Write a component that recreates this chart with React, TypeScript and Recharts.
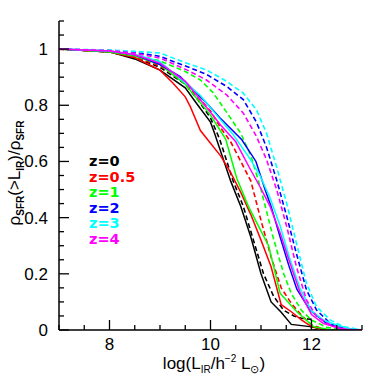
import React from 'react';
import { LineChart, Line, XAxis, YAxis } from 'recharts';

// ---- axis ticks ----
const xTicks = [7, 7.5, 8, 8.5, 9, 9.5, 10, 10.5, 11, 11.5, 12, 12.5, 13];
const xMajor = [8, 10, 12];
const yTicks = [0, 0.05, 0.1, 0.15, 0.2, 0.25, 0.3, 0.35, 0.4, 0.45, 0.5, 0.55, 0.6, 0.65, 0.7, 0.75, 0.8, 0.85, 0.9, 0.95, 1, 1.05, 1.1];
const yMajor = [0, 0.2, 0.4, 0.6, 0.8, 1];

// ---- series (log L_IR, fraction) ----
const z0SolidX = [7, 8, 8.5, 9, 9.5, 9.75, 10, 10.08, 10.4, 10.6, 10.8, 11.0, 11.2, 11.4, 11.6, 11.97, 12.3, 13];
const z0SolidY = [1, 0.99, 0.965, 0.925, 0.862, 0.8, 0.74, 0.7, 0.53, 0.44, 0.33, 0.2, 0.1, 0.063, 0.02, 0.012, 0, 0];
const z0DashX = [7, 8, 8.5, 9, 9.5, 9.75, 10, 10.18, 10.45, 10.65, 10.85, 11.05, 11.25, 11.45, 11.65, 11.8, 11.99, 12, 13];
const z0DashY = [1, 0.99, 0.97, 0.935, 0.875, 0.82, 0.755, 0.68, 0.53, 0.44, 0.32, 0.2, 0.12, 0.07, 0.05, 0.042, 0.038, 0, 0];

const z05SolidX = [7, 8, 8.5, 9, 9.25, 9.5, 9.6, 9.8, 10, 10.2, 10.4, 10.6, 10.8, 11.0, 11.2, 11.4, 11.6, 11.8, 12.0, 12.3, 13];
const z05SolidY = [1, 0.99, 0.97, 0.925, 0.88, 0.83, 0.795, 0.71, 0.665, 0.62, 0.56, 0.49, 0.41, 0.32, 0.225, 0.09, 0.065, 0.036, 0.012, 0, 0];
const z05DashX = [7, 8, 8.5, 9, 9.5, 10, 10.2, 10.4, 10.6, 10.8, 11.0, 11.2, 11.4, 11.6, 11.8, 12.0, 12.3, 13];
const z05DashY = [1, 0.99, 0.972, 0.94, 0.88, 0.78, 0.72, 0.67, 0.6, 0.53, 0.39, 0.26, 0.15, 0.095, 0.053, 0.018, 0, 0];

const z1SolidX = [7, 8, 8.5, 9, 9.5, 10, 10.3, 10.52, 10.75, 10.95, 11.15, 11.38, 11.71, 12.04, 12.4, 13];
const z1SolidY = [1, 0.99, 0.975, 0.945, 0.875, 0.765, 0.68, 0.54, 0.44, 0.37, 0.3, 0.13, 0.065, 0.012, 0, 0];
const z1DashX = [7, 8, 8.5, 9, 9.5, 9.8, 10.05, 10.3, 10.6, 10.8, 11.0, 11.24, 11.45, 11.6, 11.8, 12.0, 12.3, 12.6, 13];
const z1DashY = [1, 0.993, 0.98, 0.958, 0.92, 0.89, 0.845, 0.78, 0.7, 0.62, 0.5, 0.33, 0.2, 0.13, 0.07, 0.035, 0.01, 0, 0];

const z2SolidX = [7, 8, 8.5, 9, 9.4, 9.66, 9.92, 10.19, 10.62, 10.9, 11.08, 11.2, 11.38, 11.55, 11.71, 11.97, 12.3, 12.6, 13];
const z2SolidY = [1, 0.993, 0.98, 0.945, 0.902, 0.855, 0.808, 0.755, 0.677, 0.6, 0.5, 0.44, 0.33, 0.23, 0.145, 0.07, 0.024, 0.003, 0];
const z2DashX = [7, 8, 8.5, 9, 9.53, 9.92, 10.32, 10.65, 10.91, 11.11, 11.31, 11.51, 11.7, 11.9, 12.1, 12.37, 12.7, 13];
const z2DashY = [1, 0.995, 0.988, 0.974, 0.938, 0.91, 0.867, 0.82, 0.74, 0.65, 0.534, 0.404, 0.273, 0.143, 0.071, 0.024, 0.003, 0];

const z3SolidX = [7, 8, 8.5, 9, 9.5, 9.8, 10.05, 10.45, 10.78, 10.98, 11.18, 11.38, 11.57, 11.77, 12.0, 12.23, 12.5, 12.75, 13];
const z3SolidY = [1, 0.993, 0.982, 0.955, 0.88, 0.835, 0.78, 0.695, 0.61, 0.55, 0.47, 0.37, 0.255, 0.15, 0.068, 0.036, 0.018, 0.005, 0];
const z3DashX = [7, 8, 8.5, 9, 9.53, 9.92, 10.32, 10.65, 10.91, 11.11, 11.31, 11.51, 11.7, 11.9, 12.1, 12.37, 12.63, 13];
const z3DashY = [1, 0.997, 0.992, 0.986, 0.95, 0.926, 0.885, 0.843, 0.784, 0.7, 0.58, 0.45, 0.31, 0.166, 0.083, 0.036, 0.012, 0];

const z4SolidX = [7, 8, 8.5, 9, 9.5, 10, 10.2, 10.5, 10.78, 10.98, 11.18, 11.38, 11.57, 11.77, 12, 12.23, 12.6, 13];
const z4SolidY = [1, 0.993, 0.98, 0.95, 0.885, 0.775, 0.73, 0.67, 0.575, 0.51, 0.44, 0.345, 0.24, 0.135, 0.055, 0.024, 0.003, 0];
const z4DashX = [7, 8, 8.5, 9, 9.53, 9.92, 10.32, 10.65, 10.91, 11.11, 11.31, 11.51, 11.7, 11.9, 12.1, 12.37, 12.7, 13];
const z4DashY = [1, 0.995, 0.985, 0.968, 0.926, 0.89, 0.837, 0.772, 0.689, 0.606, 0.5, 0.368, 0.226, 0.107, 0.048, 0.018, 0.002, 0];

const legendLabels = ['z=0', 'z=0.5', 'z=1', 'z=2', 'z=3', 'z=4'];
const colors = ['#000000', '#ff0000', '#00ff00', '#0000ff', '#00ffff', '#ff00ff'];

const pts = (xs: number[], ys: number[]) => xs.map((x, i) => ({ x, y: ys[i] }));

const groups = [
  [z0SolidX, z0SolidY, z0DashX, z0DashY],
  [z05SolidX, z05SolidY, z05DashX, z05DashY],
  [z1SolidX, z1SolidY, z1DashX, z1DashY],
  [z2SolidX, z2SolidY, z2DashX, z2DashY],
  [z3SolidX, z3SolidY, z3DashX, z3DashY],
  [z4SolidX, z4SolidY, z4DashX, z4DashY],
];

const TICK_FONT = "'Liberation Sans', Arial, sans-serif";

const BottomTick = (p: any) => {
  const { x, y, payload } = p;
  const major = xMajor.includes(payload.value);
  return (
    <g>
      <line x1={x} x2={x} y1={y} y2={y - (major ? 10 : 5)} stroke="#000" strokeWidth={1.3} />
      {major && (
        <text x={x} y={y + 20} textAnchor="middle" fontFamily={TICK_FONT} fontSize={17} fill="#000">
          {payload.value}
        </text>
      )}
    </g>
  );
};
const TopTick = (p: any) => {
  const { x, y, payload } = p;
  const major = xMajor.includes(payload.value);
  return <line x1={x} x2={x} y1={y} y2={y + (major ? 10 : 5)} stroke="#000" strokeWidth={1.3} />;
};
const LeftTick = (p: any) => {
  const { x, y, payload } = p;
  const major = yMajor.includes(payload.value);
  return (
    <g>
      <line x1={x} x2={x + (major ? 10 : 5)} y1={y} y2={y} stroke="#000" strokeWidth={1.3} />
      {major && (
        <text x={x - 11} y={y + 6} textAnchor="end" fontFamily={TICK_FONT} fontSize={17} fill="#000">
          {String(payload.value)}
        </text>
      )}
    </g>
  );
};
const RightTick = (p: any) => {
  const { x, y, payload } = p;
  const major = yMajor.includes(payload.value);
  return <line x1={x} x2={x - (major ? 10 : 5)} y1={y} y2={y} stroke="#000" strokeWidth={1.3} />;
};

export default function App() {
  const axisLine = { stroke: '#000', strokeWidth: 1.5 };
  return (
    <div style={{ position: 'absolute', left: 0, top: 0, width: 382, height: 382, background: '#fff' }}>
      <LineChart width={382} height={382} margin={{ top: 21, right: 20, bottom: 0, left: 0 }}>
        <XAxis xAxisId="b" dataKey="x" type="number" domain={[7, 13]} allowDataOverflow ticks={xTicks} interval={0}
          height={52} tickSize={0} tickMargin={0} tickLine={false} axisLine={axisLine} tick={<BottomTick />} />
        <XAxis xAxisId="t" orientation="top" dataKey="x" type="number" domain={[7, 13]} allowDataOverflow ticks={xTicks} interval={0}
          height={0} tickSize={0} tickMargin={0} tickLine={false} axisLine={axisLine} tick={<TopTick />} />
        <YAxis yAxisId="l" type="number" domain={[0, 1.1]} allowDataOverflow ticks={yTicks} interval={0}
          width={59} tickSize={0} tickMargin={0} tickLine={false} axisLine={axisLine} tick={<LeftTick />} />
        <YAxis yAxisId="r" orientation="right" type="number" domain={[0, 1.1]} allowDataOverflow ticks={yTicks} interval={0}
          width={0} tickSize={0} tickMargin={0} tickLine={false} axisLine={axisLine} tick={<RightTick />} />
        {groups.map((g, i) => [
          <Line key={`s${i}`} xAxisId="b" yAxisId="l" data={pts(g[0], g[1])} dataKey="y" type="linear"
            stroke={colors[i]} strokeWidth={1.5} dot={false} isAnimationActive={false} />,
          <Line key={`d${i}`} xAxisId="b" yAxisId="l" data={pts(g[2], g[3])} dataKey="y" type="linear"
            stroke={colors[i]} strokeWidth={1.6} strokeDasharray="5 3" dot={false} isAnimationActive={false} />,
        ])}
      </LineChart>
      <svg width={382} height={382} style={{ position: 'absolute', left: 0, top: 0, pointerEvents: 'none' }}>
        <text x={214} y={369} textAnchor="middle" fontFamily={TICK_FONT} fontSize={17} fill="#000">
          log(L<tspan fontSize={10} dy={4}>IR</tspan>
          <tspan dy={-4}>/h</tspan>
          <tspan fontSize={10} dy={-7}>−2</tspan>
          <tspan dy={7}> L</tspan>
          <tspan fontSize={11} dy={4}>⊙</tspan>
          <tspan dy={-4}>)</tspan>
        </text>
        <text transform="translate(20,173) rotate(-90)" textAnchor="middle" fontFamily={TICK_FONT} fontSize={17} fill="#000">
          ρ<tspan fontSize={10} dy={4} fontWeight="bold">SFR</tspan>
          <tspan dy={-4}>(&gt;L</tspan>
          <tspan fontSize={10} dy={4} fontWeight="bold">IR</tspan>
          <tspan dy={-4}>)/ρ</tspan>
          <tspan fontSize={10} dy={4} fontWeight="bold">SFR</tspan>
        </text>
        {legendLabels.map((t, i) => (
          <text key={t} x={89} y={166 + i * 15.5} fontFamily="'DejaVu Sans', sans-serif" fontWeight="bold" fontSize={14.5} fill={colors[i]}>
            {t}
          </text>
        ))}
      </svg>
    </div>
  );
}
